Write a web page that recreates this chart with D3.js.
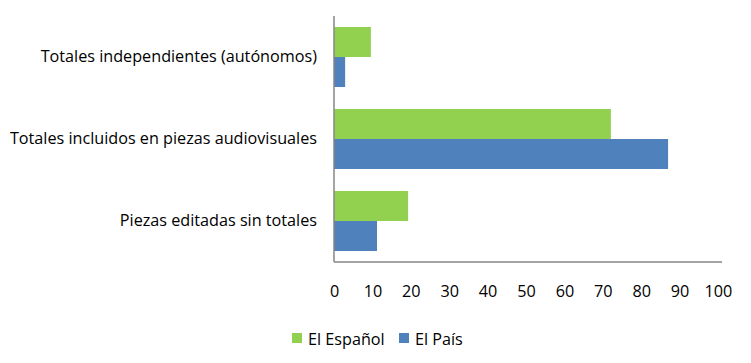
<!DOCTYPE html>
<html><head><meta charset="utf-8">
<script src="https://cdn.jsdelivr.net/npm/d3@7"></script>
<style>body{margin:0;background:#fff}text{font-family:"Open Sans","Liberation Sans",sans-serif;}</style>
</head><body><svg id="c" width="751" height="363"></svg>
<script>
const categories = ["Totales independientes (autónomos)", "Totales incluidos en piezas audiovisuales", "Piezas editadas sin totales"];
const seriesNames = ["El Español", "El País"];
const elEspanol = [9.6, 72.1, 19.3];
const elPais = [2.9, 87.0, 11.2];
const xTicks = [0,10,20,30,40,50,60,70,80,90,100];
const colors = ["#92D050", "#4F81BD"];

(function(){
const svg = d3.select("#c");
const pLeft = 334, pRight = 718, pTop = 16, pBottom = 262;
const fs = 16.2;
const x = d3.scaleLinear().domain([0,100]).range([pLeft,pRight]);
const y = d3.scaleBand().domain(categories).range([pTop,pBottom]).paddingInner(0.268).paddingOuter(0.134);
const y1 = d3.scaleBand().domain(seriesNames).range([0,y.bandwidth()]);
const series = [elEspanol, elPais];

categories.forEach((c,i)=>{
  series.forEach((s,j)=>{
    svg.append("rect").attr("x", x(0)).attr("y", y(c)+y1(seriesNames[j]))
      .attr("width", x(s[i])-x(0)).attr("height", y1.bandwidth()).attr("fill", colors[j]);
  });
});

svg.append("line").attr("x1",pLeft).attr("x2",pLeft).attr("y1",pTop).attr("y2",pBottom).attr("stroke","#868686").attr("stroke-width",1.5);
svg.append("line").attr("x1",pLeft).attr("x2",722).attr("y1",pBottom).attr("y2",pBottom).attr("stroke","#868686").attr("stroke-width",1.5);

const xAxis = d3.axisBottom(x).tickValues(xTicks).tickSize(0).tickPadding(0);
const gx = svg.append("g").attr("transform",`translate(0,${pBottom})`).call(xAxis);
gx.select(".domain").remove();
gx.selectAll("text").attr("font-size",fs).attr("fill","#000").attr("dy",null).attr("y",35).attr("font-family","'Open Sans',sans-serif");

const yAxis = d3.axisLeft(y).tickSize(0).tickPadding(0);
const gy = svg.append("g").attr("transform",`translate(317,0)`).call(yAxis);
gy.select(".domain").remove();
gy.selectAll("text").attr("font-size",fs).attr("fill","#000").attr("dy","0.33em").attr("x",0).attr("font-family","'Open Sans',sans-serif");

const legX = [292, 399];
seriesNames.forEach((n,j)=>{
  svg.append("rect").attr("x",legX[j]).attr("y",333).attr("width",10).attr("height",10).attr("fill",colors[j]);
  svg.append("text").attr("x",legX[j]+16).attr("y",345).attr("font-size",fs).attr("fill","#000").text(n);
});
})();
</script></body></html>
